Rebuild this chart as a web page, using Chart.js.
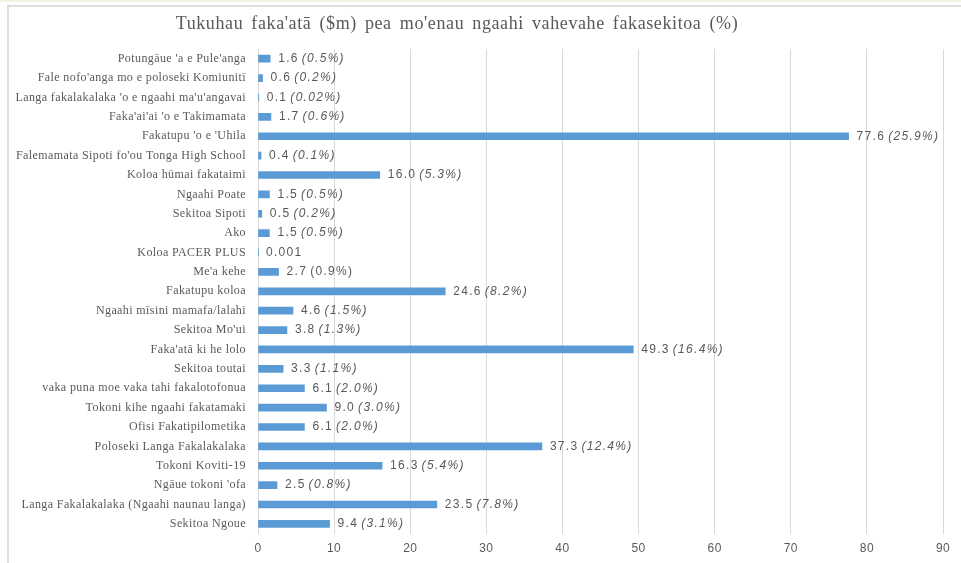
<!DOCTYPE html>
<html>
<head>
<meta charset="utf-8">
<script src="https://cdn.jsdelivr.net/npm/chart.js@4.4.1/dist/chart.umd.min.js"></script>
<style>
  html, body { margin: 0; padding: 0; background: #fff; }
  body { width: 961px; height: 563px; position: relative; overflow: hidden; border-top: 2px solid #eef4e4; box-sizing: border-box; }
  #frame { position: absolute; left: 7px; top: 3px; width: 970px; height: 580px; border-left: 2px solid #dedede; border-top: 2px solid #dedede; }
  #wrap { position: absolute; left: 0; top: 0; width: 961px; height: 563px; }
</style>
</head>
<body>
<div id="frame"></div>
<div id="wrap"><canvas id="sectorChart" width="961" height="563"></canvas></div>
<script>
/* ======================
   DATA
====================== */
const chartTitle = "Tukuhau faka'atā ($m) pea mo'enau ngaahi vahevahe fakasekitoa (%)";

const sectors = [
  "Potungāue 'a e Pule'anga",
  "Fale nofo'anga mo e poloseki Komiunitī",
  "Langa fakalakalaka 'o e ngaahi ma'u'angavai",
  "Faka'ai'ai 'o e Takimamata",
  "Fakatupu 'o e 'Uhila",
  "Falemamata Sipoti fo'ou Tonga High School",
  "Koloa hūmai fakataimi",
  "Ngaahi Poate",
  "Sekitoa Sipoti",
  "Ako",
  "Koloa PACER PLUS",
  "Me'a kehe",
  "Fakatupu koloa",
  "Ngaahi mīsini mamafa/lalahi",
  "Sekitoa Mo'ui",
  "Faka'atā ki he lolo",
  "Sekitoa toutai",
  "vaka puna moe vaka tahi fakalotofonua",
  "Tokoni kihe ngaahi fakatamaki",
  "Ofisi Fakatipilometika",
  "Poloseki Langa Fakalakalaka",
  "Tokoni Koviti-19",
  "Ngāue tokoni 'ofa",
  "Langa Fakalakalaka (Ngaahi naunau langa)",
  "Sekitoa Ngoue"
];

const amounts = [1.6, 0.6, 0.1, 1.7, 77.6, 0.4, 16.0, 1.5, 0.5, 1.5, 0.001, 2.7, 24.6,
                 4.6, 3.8, 49.3, 3.3, 6.1, 9.0, 6.1, 37.3, 16.3, 2.5, 23.5, 9.4];

const shares = ["(0.5%)", "(0.2%)", "(0.02%)", "(0.6%)", "(25.9%)", "(0.1%)", "(5.3%)",
                "(0.5%)", "(0.2%)", "(0.5%)", "", "(0.9%)", "(8.2%)", "(1.5%)", "(1.3%)",
                "(16.4%)", "(1.1%)", "(2.0%)", "(3.0%)", "(2.0%)", "(12.4%)", "(5.4%)",
                "(0.8%)", "(7.8%)", "(3.1%)"];

const xTicks = [0, 10, 20, 30, 40, 50, 60, 70, 80, 90];

/* ======================
   STYLE
====================== */
const GREY = "#595959";
const BLUE = "#5b9bd5";
const SERIF = "'Liberation Serif', 'DejaVu Serif', serif";
const SANS = "'Liberation Sans', 'DejaVu Sans', sans-serif";

/* ======================
   PLUGINS
====================== */
// the source picture is stretched sideways, so text gets extra letter spacing
const spacing = {
  id: "spacing",
  beforeDraw(chart) { chart.ctx.letterSpacing = "0.4px"; },
  afterDraw(chart) { chart.ctx.letterSpacing = "0px"; }
};

const titlePlugin = {
  id: "sheetTitle",
  afterDraw(chart) {
    const ctx = chart.ctx;
    ctx.save();
    ctx.font = "18px " + SERIF;
    ctx.letterSpacing = "0.6px";
    ctx.wordSpacing = "3px";
    ctx.fillStyle = GREY;
    ctx.textAlign = "center";
    ctx.textBaseline = "middle";
    ctx.fillText(chartTitle, 457, 22);
    ctx.restore();
  }
};

const valueLabels = {
  id: "valueLabels",
  afterDatasetsDraw(chart) {
    const ctx = chart.ctx;
    const meta = chart.getDatasetMeta(0);
    ctx.save();
    ctx.fillStyle = GREY;
    ctx.textBaseline = "middle";
    ctx.textAlign = "left";
    ctx.letterSpacing = "1.3px";
    meta.data.forEach((bar, i) => {
      const v = amounts[i];
      const txt = v < 0.01 ? String(v) : v.toFixed(1);
      let x = bar.x + 8;
      ctx.font = "12px " + SANS;
      ctx.fillText(txt, x, bar.y);
      if (shares[i]) {
        x += ctx.measureText(txt).width + 3;
        ctx.font = (i === 11 ? "" : "italic ") + "12px " + SANS;
        ctx.fillText(shares[i], x, bar.y);
      }
    });
    ctx.restore();
  }
};

/* ======================
   CHART
====================== */
new Chart(document.getElementById("sectorChart"), {
  type: "bar",
  data: {
    labels: sectors,
    datasets: [{
      data: amounts,
      backgroundColor: BLUE,
      borderWidth: 0,
      barThickness: 7
    }]
  },
  options: {
    indexAxis: "y",
    responsive: false,
    animation: false,
    devicePixelRatio: 1,
    layout: { padding: { top: 47, right: 18, bottom: 1, left: 0 } },
    plugins: {
      legend: { display: false },
      tooltip: { enabled: false }
    },
    scales: {
      x: {
        min: xTicks[0],
        max: xTicks[xTicks.length - 1],
        afterBuildTicks: s => { s.ticks = xTicks.map(v => ({ value: v })); },
        ticks: { color: GREY, font: { family: SANS, size: 12 }, padding: 8 },
        grid: { color: "#d9d9d9", drawTicks: false },
        border: { display: false }
      },
      y: {
        afterFit: s => { s.width = 258; },
        ticks: { color: GREY, font: { family: SERIF, size: 12 }, padding: 12, autoSkip: false },
        grid: { drawOnChartArea: false, drawTicks: false },
        border: { color: "#d9d9d9" }
      }
    }
  },
  plugins: [spacing, titlePlugin, valueLabels]
});
</script>
</body>
</html>
